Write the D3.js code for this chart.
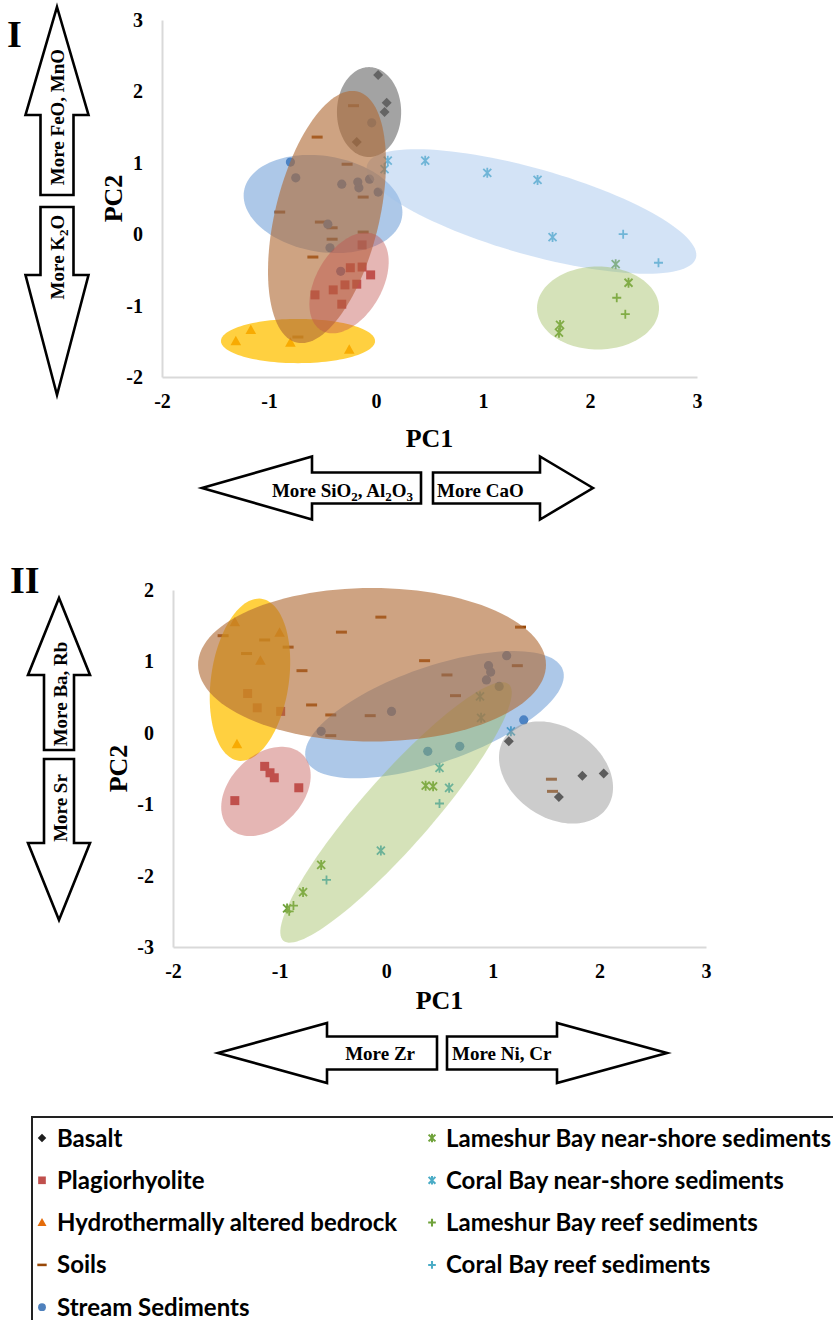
<!DOCTYPE html>
<html><head><meta charset="utf-8">
<script src="https://cdn.jsdelivr.net/npm/d3@7"></script>
<style>
body{margin:0;background:#fff}
svg{display:block}
</style>
</head><body>
<svg id="fig" width="833" height="1320"></svg>
<script>
// ---------- series names ----------
const seriesNames = [
  "Basalt", "Plagiorhyolite", "Hydrothermally altered bedrock", "Soils", "Stream Sediments",
  "Lameshur Bay near-shore sediments", "Coral Bay near-shore sediments",
  "Lameshur Bay reef sediments", "Coral Bay reef sediments"
];
const axisTicks = [-3, -2, -1, 0, 1, 2, 3];

// ---------- panel I : major oxides (PC1, PC2 scores) ----------
const basaltI     = [[0.02,2.23],[0.10,1.84],[0.08,1.71],[-0.18,1.29]];
const plagioI     = [[-0.13,-0.15],[-0.24,-0.47],[-0.13,-0.46],[-0.05,-0.57],[-0.29,-0.71],[-0.18,-0.70],[-0.40,-0.78],[-0.57,-0.85],[-0.32,-0.98]];
const hydroI      = [[-1.31,-1.50],[-1.17,-1.34],[-0.80,-1.52],[-0.25,-1.62]];
const soilsI      = [[-0.21,1.80],[-0.55,1.36],[-0.27,0.98],[-0.90,0.31],[-0.12,0.52],[-0.52,0.17],[-0.41,0.09],[-0.41,-0.07],[-0.12,0.03],[-0.59,-0.32],[-0.73,-1.44]];
const streamI     = [[-0.80,1.01],[-0.75,0.79],[-0.32,0.70],[-0.16,0.65],[-0.17,0.73],[-0.06,0.77],[0.02,0.59],[-0.04,1.56],[-0.45,0.14],[-0.43,-0.19],[-0.33,-0.52]];
const lameNearI   = [[2.24,-0.42],[2.36,-0.68],[1.72,-1.27],[1.71,-1.38]];
const coralNearI  = [[0.11,1.03],[0.08,0.91],[0.46,1.03],[1.04,0.86],[1.51,0.76],[1.65,-0.04]];
const lameReefI   = [[2.25,-0.89],[2.33,-1.12]];
const coralReefI  = [[2.31,0.00],[2.64,-0.40]];

// group ellipses: [group, centre PC1, centre PC2, half-axis 1 (dPC1, dPC2), half-axis 2 (dPC1, dPC2)]
const ellipsesI = [
  ["Basalt",          -0.065, 1.71,  0.30, 0.00,   0.00, 0.63],
  ["Stream Sediments",-0.495, 0.423, 0.738,-0.186, -0.076,-0.662],
  ["Coral Bay",        1.453, 0.318, 1.537,-0.651, -0.109,-0.580],
  ["Lameshur Bay",     2.075,-1.034, 0.570, 0.00,   0.00, 0.581],
  ["Hydrothermally altered bedrock", -0.729,-1.496, 0.72, 0.00, 0.00, 0.31],
  ["Soils",           -0.458, 0.241, 0.285, 1.758,  0.472,-0.172],
  ["Plagiorhyolite",  -0.252,-0.683, 0.257, 0.667,  0.267,-0.231]
];

// ---------- panel II : trace elements (PC1, PC2 scores) ----------
const basaltII    = [[1.15,-0.12],[1.84,-0.60],[2.04,-0.57],[1.62,-0.90]];
const plagioII    = [[-1.30,0.55],[-1.21,0.35],[-0.99,0.30],[-1.14,-0.47],[-1.09,-0.56],[-1.05,-0.63],[-0.82,-0.77],[-1.42,-0.95]];
const hydroII     = [[-1.42,1.55],[-1.00,1.40],[-1.18,1.01],[-1.40,-0.16]];
const soilsII     = [[-1.53,1.36],[-1.14,1.30],[-1.31,1.11],[-0.92,1.20],[-0.79,0.87],[-0.42,1.41],[-0.05,1.62],[1.26,1.48],[0.36,1.01],[-0.70,0.39],[-0.52,0.25],[-0.15,0.24],[0.57,0.81],[0.65,0.52],[1.23,0.94],[-0.52,-0.04],[1.55,-0.65],[1.56,-0.82]];
const streamII    = [[-0.61,0.02],[0.05,0.30],[1.13,1.08],[0.96,0.94],[0.98,0.85],[0.94,0.74],[1.06,0.65],[0.39,-0.26],[0.69,-0.19],[1.29,0.18]];
const lameNearII  = [[0.37,-0.74],[0.44,-0.75],[-0.61,-1.85],[-0.78,-2.23],[-0.93,-2.46]];
const coralNearII = [[1.17,0.02],[0.88,0.51],[0.89,0.21],[0.50,-0.49],[0.59,-0.77],[-0.05,-1.65]];
const lameReefII  = [[-0.87,-2.42],[-0.91,-2.50]];
const coralReefII = [[-0.56,-2.06],[0.50,-0.99]];

const ellipsesII = [
  ["Stream Sediments", 0.453, 0.254, 1.204, 0.627,  0.148,-0.633],
  ["Sediments",        0.092,-1.115, 1.057, 1.796,  0.247,-0.322],
  ["Basalt",           1.593,-0.556, 0.477,-0.497, -0.242,-0.515],
  ["Hydrothermally altered bedrock", -1.278, 0.743, 0.107, 1.134, 0.362,-0.075],
  ["Soils",           -0.133, 0.953, 1.632, 0.00,   0.00, 1.075],
  ["Plagiorhyolite",  -1.128,-0.821, 0.345, 0.514,  0.239,-0.356]
];

// ---------- styling ----------
const markerPath = {
  diamond: "M0,-5L5,0L0,5L-5,0Z",
  square: "M-4.5,-4.5H4.5V4.5H-4.5Z",
  triangle: "M0,-5.5L5.3,4L-5.3,4Z",
  dash: "M-5.5,-1.5H5.5V1.5H-5.5Z",
  circle: "M4.6,0A4.6,4.6 0 1 1 -4.6,0A4.6,4.6 0 1 1 4.6,0Z",
  star: "M-4,-4L4,4M-4,4L4,-4M0,-5V5",
  plus: "M-4.5,0H4.5M0,-4.5V4.5"
};
const seriesStyle = {
  "Basalt": {shape: "diamond", color: "#1e1e1e"},
  "Plagiorhyolite": {shape: "square", color: "#c0504d"},
  "Hydrothermally altered bedrock": {shape: "triangle", color: "#e46c0a"},
  "Soils": {shape: "dash", color: "#984807"},
  "Stream Sediments": {shape: "circle", color: "#4f81bd"},
  "Lameshur Bay near-shore sediments": {shape: "star", color: "#6fa23a", stroke: true},
  "Coral Bay near-shore sediments": {shape: "star", color: "#4bacc6", stroke: true},
  "Lameshur Bay reef sediments": {shape: "plus", color: "#6fa23a", stroke: true},
  "Coral Bay reef sediments": {shape: "plus", color: "#4bacc6", stroke: true}
};
const hullFill = {
  "Basalt": ["#7f7f7f", 0.72],
  "Plagiorhyolite": ["#c0504d", 0.42],
  "Hydrothermally altered bedrock": ["#ffc000", 0.75],
  "Soils": ["#b06a35", 0.62],
  "Stream Sediments": ["#4a86cc", 0.45],
  "Coral Bay": ["#9ec0ea", 0.45],
  "Lameshur Bay": ["#9bbb59", 0.42],
  "Sediments": ["#9bbb59", 0.42]
};

const serif = "'Liberation Serif', 'Times New Roman', serif";
const svg = d3.select("#fig");

function drawPanel(cfg) {
  const x = d3.scaleLinear().domain([-2, 3]).range(cfg.xRange);
  const y = d3.scaleLinear().domain(cfg.yDomain).range(cfg.yRange);
  const g = svg.append("g");

  // axes
  const xAxis = d3.axisBottom(x).tickValues(axisTicks.filter(t => t >= -2 && t <= 3))
    .tickSize(0).tickPadding(17).tickFormat(d => d < 0 ? "-" + Math.abs(d) : String(d));
  const yAxis = d3.axisLeft(y).tickValues(axisTicks.filter(t => t >= cfg.yDomain[0] && t <= cfg.yDomain[1]))
    .tickSize(0).tickPadding(19).tickFormat(d => d < 0 ? "-" + Math.abs(d) : String(d));
  const gx = g.append("g").attr("transform", `translate(0,${cfg.yRange[0]})`).call(xAxis);
  const gy = g.append("g").attr("transform", `translate(${cfg.xRange[0]},0)`).call(yAxis);
  [gx, gy].forEach(a => {
    a.attr("font-family", null).attr("font-size", null);
    a.select(".domain").attr("stroke", "#d9d9d9").attr("stroke-width", 2);
    a.selectAll("text").style("font-family", serif).style("font-weight", "bold")
      .style("font-size", "20px").attr("fill", "#000");
  });

  // sample points (drawn beneath the group ellipses)
  const pts = g.append("g");
  cfg.series.forEach(([name, data]) => {
    const st = seriesStyle[name];
    pts.selectAll(null).data(data).join("path")
      .attr("transform", d => `translate(${x(d[0])},${y(d[1])})`)
      .attr("d", markerPath[st.shape])
      .attr("fill", st.stroke ? "none" : st.color)
      .attr("stroke", st.stroke ? st.color : "none")
      .attr("stroke-width", st.stroke ? 1.8 : 0);
  });

  // group ellipses
  const line = d3.line().curve(d3.curveLinearClosed);
  const steps = d3.range(0, 2 * Math.PI, Math.PI / 60);
  g.append("g").selectAll("path").data(cfg.ellipses).join("path")
    .attr("d", e => line(steps.map(t => {
      const px = e[1] + Math.cos(t) * e[3] + Math.sin(t) * e[5];
      const py = e[2] + Math.cos(t) * e[4] + Math.sin(t) * e[6];
      return [x(px), y(py)];
    })))
    .attr("fill", e => (cfg.fillOverride[e[0]] || hullFill[e[0]])[0])
    .attr("fill-opacity", e => (cfg.fillOverride[e[0]] || hullFill[e[0]])[1]);

  // axis titles
  g.append("text").attr("x", (cfg.xRange[0] + cfg.xRange[1]) / 2).attr("y", cfg.xTitleY)
    .attr("text-anchor", "middle").style("font-family", serif).style("font-weight", "bold")
    .style("font-size", "26px").text("PC1");
  g.append("text")
    .attr("transform", `translate(${cfg.yTitleX},${(cfg.yRange[0] + cfg.yRange[1]) / 2}) rotate(-90)`)
    .attr("text-anchor", "middle").style("font-family", serif).style("font-weight", "bold")
    .style("font-size", "26px").text("PC2");

  // panel numeral
  g.append("text").attr("x", cfg.numeral[1]).attr("y", cfg.numeral[2])
    .style("font-family", serif).style("font-weight", "bold").style("font-size", "38px").text(cfg.numeral[0]);
}

// block arrow drawing helpers
function vArrow(cx, tipY, headY, endY, headHalf, shaftHalf) {
  const pts = [[cx, tipY], [cx + headHalf, headY], [cx + shaftHalf, headY], [cx + shaftHalf, endY],
               [cx - shaftHalf, endY], [cx - shaftHalf, headY], [cx - headHalf, headY]];
  svg.append("path").attr("d", "M" + pts.join("L") + "Z")
    .attr("fill", "#fff").attr("stroke", "#000").attr("stroke-width", 2.6).attr("stroke-linejoin", "miter");
}
function hArrow(cy, tipX, headX, endX, headHalf, shaftHalf) {
  const pts = [[tipX, cy], [headX, cy - headHalf], [headX, cy - shaftHalf], [endX, cy - shaftHalf],
               [endX, cy + shaftHalf], [headX, cy + shaftHalf], [headX, cy + headHalf]];
  svg.append("path").attr("d", "M" + pts.join("L") + "Z")
    .attr("fill", "#fff").attr("stroke", "#000").attr("stroke-width", 2.6).attr("stroke-linejoin", "miter");
}
// label made of runs; a run flagged true is set as a subscript
function label(xp, yp, parts, anchor, rotate) {
  const t = svg.append("text")
    .attr("transform", `translate(${xp},${yp})` + (rotate ? " rotate(-90)" : ""))
    .attr("text-anchor", anchor).style("font-family", serif).style("font-weight", "bold")
    .style("font-size", "19px").attr("fill", "#000");
  let shift = 0;
  parts.forEach(([s, sub]) => {
    const ts = t.append("tspan").text(s);
    if (sub) { ts.style("font-size", "13px").attr("dy", 4 - shift); shift = 4; }
    else { ts.attr("dy", -shift); shift = 0; }
  });
}

drawPanel({
  xRange: [162, 697], yDomain: [-2, 3], yRange: [377, 20],
  series: [["Basalt", basaltI], ["Plagiorhyolite", plagioI], ["Hydrothermally altered bedrock", hydroI],
           ["Soils", soilsI], ["Stream Sediments", streamI],
           ["Lameshur Bay near-shore sediments", lameNearI], ["Coral Bay near-shore sediments", coralNearI],
           ["Lameshur Bay reef sediments", lameReefI], ["Coral Bay reef sediments", coralReefI]],
  ellipses: ellipsesI, fillOverride: {},
  xTitleY: 447, yTitleX: 122, numeral: ["I", 7, 47]
});
drawPanel({
  xRange: [173, 706], yDomain: [-3, 2], yRange: [947, 590],
  series: [["Basalt", basaltII], ["Plagiorhyolite", plagioII], ["Hydrothermally altered bedrock", hydroII],
           ["Soils", soilsII], ["Stream Sediments", streamII],
           ["Lameshur Bay near-shore sediments", lameNearII], ["Coral Bay near-shore sediments", coralNearII],
           ["Lameshur Bay reef sediments", lameReefII], ["Coral Bay reef sediments", coralReefII]],
  ellipses: ellipsesII, fillOverride: {"Basalt": ["#999999", 0.5]},
  xTitleY: 1009, yTitleX: 127, numeral: ["II", 10, 593]
});

// loading arrows, panel I
vArrow(57, 7, 115, 195, 31.5, 16.5);
vArrow(57, 395, 275, 207, 31.5, 16.5);
label(64, 117, [["More FeO, MnO"]], "middle", true);
label(64, 257, [["More K"], ["2", true], ["O"]], "middle", true);
hArrow(488, 202, 312, 421, 31.5, 15.5);
hArrow(488, 593, 540, 433, 31.5, 15.5);
label(413, 497, [["More SiO"], ["2", true], [", Al"], ["2", true], ["O"], ["3", true]], "end", false);
label(437, 497, [["More CaO"]], "start", false);

// loading arrows, panel II
vArrow(59, 598, 675, 750, 31, 15);
vArrow(59, 920, 843, 759, 31, 15);
label(67, 694, [["More Ba, Rb"]], "middle", true);
label(67, 808, [["More Sr"]], "middle", true);
hArrow(1053, 218, 327, 437, 30, 16.5);
hArrow(1053, 667, 557, 447, 30, 16.5);
label(415, 1060, [["More Zr"]], "end", false);
label(452, 1060, [["More Ni, Cr"]], "start", false);

// legend
const lg = svg.append("g");
lg.append("rect").attr("x", 32).attr("y", 1117).attr("width", 830).attr("height", 230)
  .attr("fill", "none").attr("stroke", "#222").attr("stroke-width", 2);
const legendRows = d3.range(5).map(i => 1138 + i * 42.3);
seriesNames.forEach((name, i) => {
  const col = i < 5 ? 0 : 1;
  const row = i < 5 ? i : i - 5;
  const mx = col ? 432 : 42, tx = col ? 446 : 57, cy = legendRows[row];
  const st = seriesStyle[name];
  lg.append("path").attr("transform", `translate(${mx},${cy}) scale(0.85)`)
    .attr("d", markerPath[st.shape])
    .attr("fill", st.stroke ? "none" : st.color)
    .attr("stroke", st.stroke ? st.color : "none").attr("stroke-width", st.stroke ? 2.4 : 0);
  lg.append("text").attr("x", tx).attr("y", cy + 8.5)
    .style("font-family", "Lato, 'Open Sans', sans-serif").style("font-weight", "700")
    .style("font-size", "24px").attr("fill", "#000").text(name);
});
</script>
</body></html>
